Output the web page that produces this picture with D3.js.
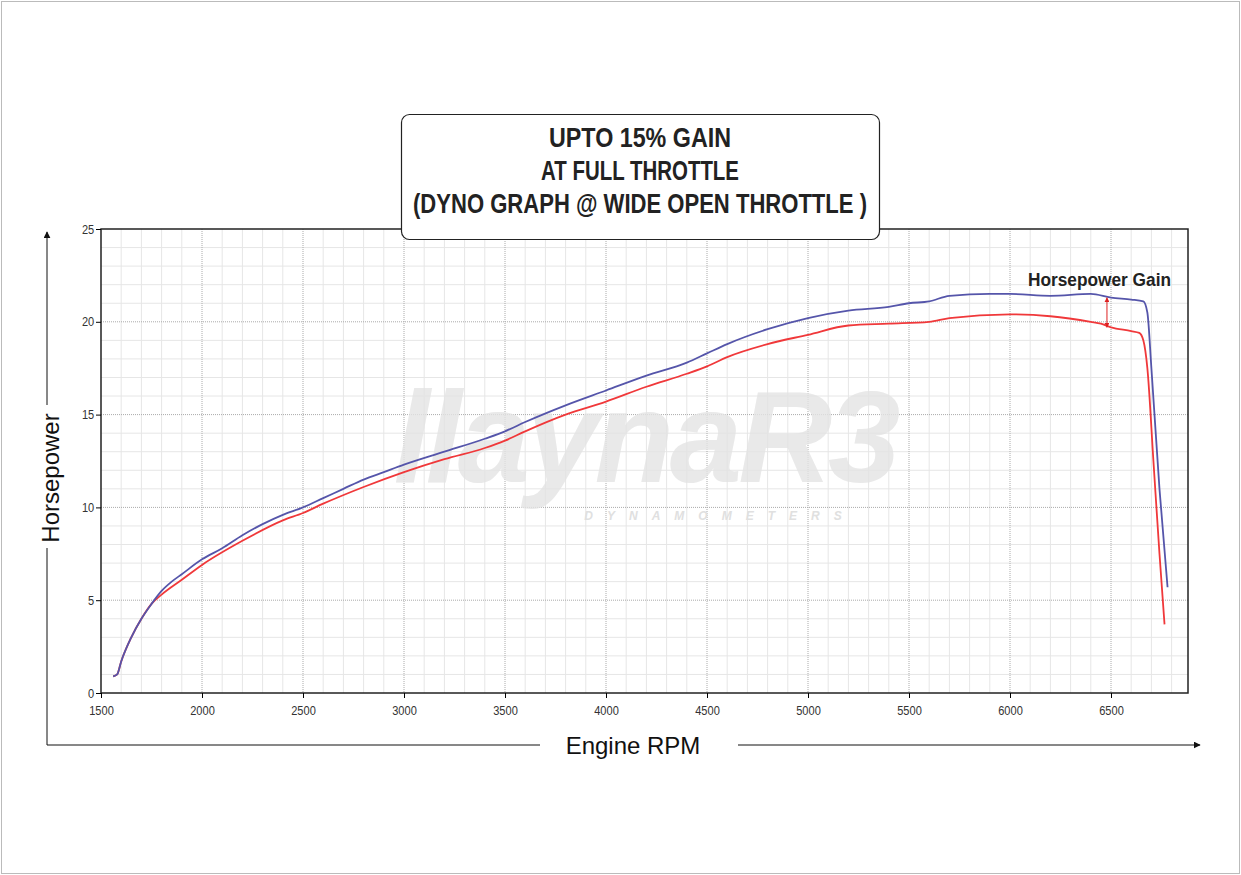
<!DOCTYPE html>
<html><head><meta charset="utf-8">
<script src="https://d3js.org/d3.v7.min.js"></script>
<style>body{margin:0;background:#fff}svg{display:block}</style>
</head><body>
<script>
const rpmBlue = [1560,1580,1600,1650,1700,1750,1800,1850,1900,2000,2100,2200,2300,2400,2500,2600,2700,2800,2900,3000,3200,3400,3500,3600,3800,4000,4200,4400,4500,4600,4800,5000,5200,5400,5500,5600,5700,5900,6000,6200,6400,6500,6600,6660,6680,6700,6740,6780];
const hpBlue  = [0.9,1.0,1.7,3.0,4.0,4.8,5.5,6.0,6.4,7.2,7.8,8.5,9.1,9.6,10.0,10.5,11.0,11.5,11.9,12.3,13.0,13.7,14.1,14.6,15.5,16.3,17.1,17.8,18.3,18.8,19.6,20.2,20.6,20.8,21.0,21.1,21.4,21.5,21.5,21.4,21.5,21.3,21.2,21.1,20.5,17.5,11,5.7];
const rpmRed  = [1560,1580,1600,1650,1700,1750,1800,1900,2000,2200,2400,2500,2600,2800,3000,3200,3400,3500,3600,3800,4000,4200,4400,4500,4600,4800,5000,5200,5400,5600,5700,6000,6200,6400,6450,6500,6600,6640,6660,6680,6710,6740,6765];
const hpRed   = [0.9,1.0,1.7,3.0,4.0,4.8,5.3,6.1,6.9,8.2,9.3,9.7,10.2,11.1,11.9,12.6,13.2,13.6,14.1,15.0,15.7,16.5,17.2,17.6,18.1,18.8,19.3,19.8,19.9,20.0,20.2,20.4,20.3,20.0,19.9,19.7,19.5,19.4,19.0,17.5,12.5,7.5,3.7];
const xTicks = [1500,2000,2500,3000,3500,4000,4500,5000,5500,6000,6500];
const yTicks = [0,5,10,15,20,25];
const titleLines = ["UPTO 15% GAIN","AT FULL THROTTLE","(DYNO GRAPH @ WIDE OPEN THROTTLE )"];
const titleWidths = [182,198,454];

const W=1241,H=875;
const svg=d3.select("body").append("svg").attr("width",W).attr("height",H);
svg.append("rect").attr("x",1.5).attr("y",1.5).attr("width",W-3).attr("height",H-3).attr("fill","#fff").attr("stroke","#bbb");
const L=101,R=1188,T=229,B=693;
const x=d3.scaleLinear().domain([1500,1500+(R-L)/101*500]).range([L,R]);
const y=d3.scaleLinear().domain([0,25]).range([B,T]);
const g=svg.append("g");
d3.range(1600,6900,100).filter(v=>v%500).forEach(v=>g.append("line").attr("x1",x(v)).attr("x2",x(v)).attr("y1",T).attr("y2",B).attr("stroke","#e6e6e6"));
d3.range(1,25).filter(v=>v%5).forEach(v=>g.append("line").attr("y1",y(v)).attr("y2",y(v)).attr("x1",L).attr("x2",R).attr("stroke","#e6e6e6"));
xTicks.slice(1).forEach(v=>g.append("line").attr("x1",x(v)).attr("x2",x(v)).attr("y1",T).attr("y2",B).attr("stroke","#aaa").attr("stroke-dasharray","1,1"));
yTicks.slice(1,-1).forEach(v=>g.append("line").attr("y1",y(v)).attr("y2",y(v)).attr("x1",L).attr("x2",R).attr("stroke","#aaa").attr("stroke-dasharray","1,1"));
// watermark
svg.append("text").attr("x",645).attr("y",482).attr("text-anchor","middle").attr("font-family","Liberation Sans").attr("font-style","italic").attr("font-weight","bold").attr("font-size",130).attr("fill","#e4e4e4").attr("opacity",0.8).attr("letter-spacing",-4).text("llaynaR3");
svg.append("text").attr("x",720).attr("y",520).attr("text-anchor","middle").attr("font-family","Liberation Sans").attr("font-style","italic").attr("font-weight","bold").attr("font-size",12).attr("fill","#e0e0e0").attr("letter-spacing",14).text("DYNAMOMETERS");
svg.append("rect").attr("x",L).attr("y",T).attr("width",R-L).attr("height",B-T).attr("fill","none").attr("stroke","#222").attr("stroke-width",1.5);
const fx=svg.append("g").attr("transform",`translate(0,${B})`).call(d3.axisBottom(x).tickValues(xTicks).tickSize(5).tickFormat(d3.format("d")));
const fy=svg.append("g").attr("transform",`translate(${L},0)`).call(d3.axisLeft(y).tickValues(yTicks).tickSize(5));
[fx,fy].forEach(a=>{a.select(".domain").remove();a.selectAll("text").attr("font-family","Liberation Sans, sans-serif").attr("font-size",13).attr("fill","#333").attr("transform","scale(0.85,1)");});
fx.selectAll("text").attr("dy","1.1em");
const line=d3.line().x(d=>x(d[0])).y(d=>y(d[1])).curve(d3.curveMonotoneX);
svg.append("path").datum(rpmRed.map((r,i)=>[r,hpRed[i]])).attr("d",line).attr("fill","none").attr("stroke","#f0383a").attr("stroke-width",1.8);
svg.append("path").datum(rpmBlue.map((r,i)=>[r,hpBlue[i]])).attr("d",line).attr("fill","none").attr("stroke","#5555aa").attr("stroke-width",1.8);
const defs=svg.append("defs");
defs.append("marker").attr("id","ah").attr("viewBox","0 0 10 10").attr("refX",9).attr("refY",5).attr("markerWidth",5).attr("markerHeight",5).attr("orient","auto-start-reverse").append("path").attr("d","M0,0L10,5L0,10z").attr("fill","#d22");
svg.append("line").attr("x1",x(6480)).attr("x2",x(6480)).attr("y1",y(21.3)).attr("y2",y(19.7)).attr("stroke","#d22").attr("marker-start","url(#ah)").attr("marker-end","url(#ah)");
svg.append("text").attr("x",1028).attr("y",286).attr("textLength",143).attr("lengthAdjust","spacingAndGlyphs").attr("font-family","Liberation Sans, sans-serif").attr("font-weight","bold").attr("font-size",18).attr("fill","#222").text("Horsepower Gain");
svg.append("rect").attr("x",401.5).attr("y",114.5).attr("width",478).attr("height",125).attr("rx",8).attr("fill","#fff").attr("stroke","#222").attr("stroke-width",1.2);
titleLines.forEach((t,i)=>svg.append("text").attr("x",640-titleWidths[i]/2).attr("y",147+i*33).attr("textLength",titleWidths[i]).attr("lengthAdjust","spacingAndGlyphs").attr("font-family","Liberation Sans, sans-serif").attr("font-weight","bold").attr("font-size",27).attr("fill","#222").text(t));
defs.append("marker").attr("id","ak").attr("viewBox","0 0 10 10").attr("refX",9).attr("refY",5).attr("markerWidth",7).attr("markerHeight",7).attr("orient","auto").append("path").attr("d","M0,0L10,5L0,10z").attr("fill","#111");
svg.append("line").attr("x1",47).attr("x2",47).attr("y1",745).attr("y2",548).attr("stroke","#111");
svg.append("line").attr("x1",47).attr("x2",47).attr("y1",405).attr("y2",232).attr("stroke","#111").attr("marker-end","url(#ak)");
svg.append("line").attr("x1",47).attr("x2",540).attr("y1",745).attr("y2",745).attr("stroke","#111");
svg.append("line").attr("x1",738).attr("x2",1200).attr("y1",745).attr("y2",745).attr("stroke","#111").attr("marker-end","url(#ak)");
svg.append("text").attr("transform","translate(59,478) rotate(-90)").attr("text-anchor","middle").attr("font-family","Liberation Sans, Arial, sans-serif").attr("font-size",24).attr("fill","#111").text("Horsepower");
svg.append("text").attr("x",633).attr("y",754).attr("text-anchor","middle").attr("font-family","Liberation Sans, Arial, sans-serif").attr("font-size",24).attr("fill","#111").text("Engine RPM");
</script>
</body></html>
